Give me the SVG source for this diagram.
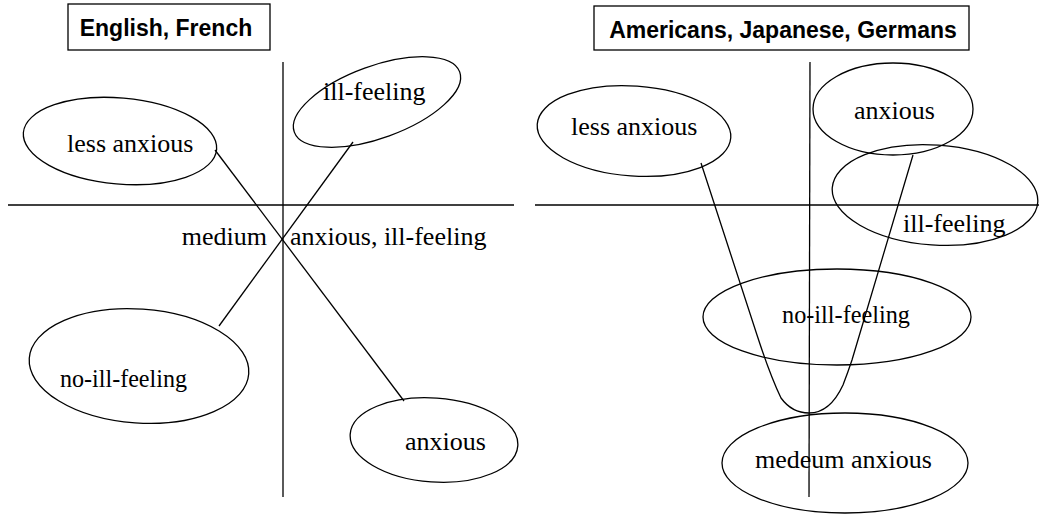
<svg xmlns="http://www.w3.org/2000/svg" width="1039" height="514" viewBox="0 0 1039 514">
<style>
.box{fill:#fff;stroke:#000;stroke-width:1.3}
.title{font-family:"Liberation Sans",Arial,sans-serif;font-weight:bold;font-size:23px;fill:#000}
.lbl{font-family:"Liberation Serif","Times New Roman",serif;font-size:26px;fill:#000}
.ell{fill:none;stroke:#000;stroke-width:1.3}
.ax{fill:none;stroke:#000;stroke-width:1.3}
.con{fill:none;stroke:#000;stroke-width:1.3}
</style>
<rect width="1039" height="514" fill="#fff"/>
<g id="axes">
<line class="ax" x1="8" y1="205" x2="514" y2="205"/>
<line class="ax" x1="283" y1="62" x2="283" y2="497"/>
<line class="ax" x1="535" y1="205" x2="1039" y2="205"/>
<line class="ax" x1="810" y1="62" x2="809" y2="497"/>
</g>
<g id="title-left">
<rect class="box" x="68" y="4" width="202" height="46"/>
<text class="title" x="166" y="36" text-anchor="middle">English, French</text>
</g>
<g id="title-right">
<rect class="box" x="594" y="6" width="375" height="44"/>
<text class="title" x="783" y="38" text-anchor="middle">Americans, Japanese, Germans</text>
</g>
<g id="connectors">
<line class="con" x1="215" y1="150" x2="404" y2="401"/>
<line class="con" x1="353" y1="142" x2="219" y2="326"/>
<path class="con" d="M701,163 L757,335 Q770,375 781,398 Q792,413 809,413 Q830,413 843,385 Q848,372 852,360 L913,155"/>
</g>
<g id="left-less-anxious">
<ellipse class="ell" cx="120" cy="141" rx="97" ry="43" transform="rotate(5 120 141)"/>
<text class="lbl" x="67" y="152">less anxious</text>
</g>
<g id="left-ill-feeling">
<ellipse class="ell" cx="377" cy="102" rx="88" ry="36" transform="rotate(-20 377 102)"/>
<text class="lbl" x="323" y="100">ill-feeling</text>
</g>
<g id="left-medium">
<text class="lbl" x="267" y="245" text-anchor="end">medium</text>
</g>
<g id="left-anxious-ill">
<text class="lbl" x="290" y="245">anxious, ill-feeling</text>
</g>
<g id="left-no-ill-feeling">
<ellipse class="ell" cx="139" cy="366" rx="110" ry="57" transform="rotate(4 139 366)"/>
<text class="lbl" x="60" y="387" textLength="127" lengthAdjust="spacingAndGlyphs">no-ill-feeling</text>
</g>
<g id="left-anxious">
<ellipse class="ell" cx="434" cy="440" rx="84" ry="42" transform="rotate(4 434 440)"/>
<text class="lbl" x="405" y="450">anxious</text>
</g>
<g id="right-less-anxious">
<ellipse class="ell" cx="634" cy="131" rx="97" ry="45" transform="rotate(4 634 131)"/>
<text class="lbl" x="571" y="135">less anxious</text>
</g>
<g id="right-anxious">
<ellipse class="ell" cx="893" cy="109" rx="80" ry="46"/>
<text class="lbl" x="854" y="119">anxious</text>
</g>
<g id="right-ill-feeling">
<ellipse class="ell" cx="935" cy="195" rx="103" ry="50" transform="rotate(4 935 195)"/>
<text class="lbl" x="903" y="232">ill-feeling</text>
</g>
<g id="right-no-ill-feeling">
<ellipse class="ell" cx="837" cy="317" rx="134" ry="48"/>
<text class="lbl" x="782" y="323" textLength="128" lengthAdjust="spacingAndGlyphs">no-ill-feeling</text>
</g>
<g id="right-medeum-anxious">
<ellipse class="ell" cx="845" cy="463" rx="123" ry="50"/>
<text class="lbl" x="755" y="468">medeum anxious</text>
</g>
</svg>
